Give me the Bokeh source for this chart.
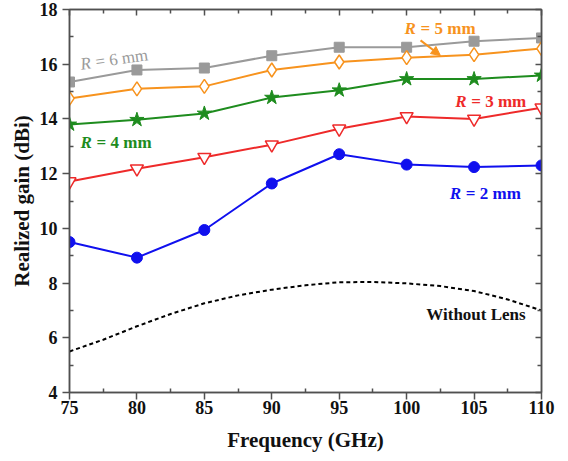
import math
from bokeh.plotting import figure
from bokeh.models import (Label, LinearAxis, Arrow, NormalHead, Range1d, FixedTicker,
                          CustomJSTickFormatter)
from bokeh.embed import file_html
from bokeh.resources import INLINE

freq = [75, 80, 85, 90, 95, 100, 105, 110]
r6 = [15.35, 15.79, 15.86, 16.31, 16.62, 16.62, 16.84, 16.96]
r5 = [14.75, 15.10, 15.19, 15.79, 16.08, 16.24, 16.35, 16.57]
r4 = [13.80, 13.97, 14.20, 14.78, 15.05, 15.46, 15.46, 15.59]
r3 = [11.71, 12.18, 12.60, 13.06, 13.64, 14.09, 14.00, 14.41]
r2 = [9.50, 8.93, 9.94, 11.64, 12.71, 12.33, 12.24, 12.30]
freq_nolens = [75, 77.5, 80, 82.5, 85, 87.5, 90, 92.5, 95, 97.5, 100, 102.5, 105, 107.5, 110]
nolens = [5.5, 5.93, 6.42, 6.87, 7.26, 7.55, 7.76, 7.92, 8.03, 8.04, 7.99, 7.89, 7.71, 7.40, 7.0]

x_ticks = [75, 80, 85, 90, 95, 100, 105, 110]
x_minor = [77.5, 82.5, 87.5, 92.5, 97.5, 102.5, 107.5]
y_ticks = [4, 6, 8, 10, 12, 14, 16, 18]
y_minor = [5, 7, 9, 11, 13, 15, 17]

FONT = "Liberation Serif"
C6, C5, C4, C3, C2 = "#9a9a9a", "#f7931e", "#1e8c1e", "#ee2a2a", "#1010ee"
AX = "#505050"
TXT = "#111111"

p = figure(width=560, height=458, output_backend="svg", toolbar_location=None,
           x_range=Range1d(75, 110), y_range=Range1d(4, 18),
           min_border_left=69, min_border_right=19, min_border_top=9, min_border_bottom=66)
p.grid.visible = False
p.outline_line_color = AX
p.outline_line_width = 1.5

for ax in (p.xaxis[0], p.yaxis[0]):
    ax.axis_line_color = AX
    ax.axis_line_width = 1.5
    ax.major_tick_line_color = AX
    ax.minor_tick_line_color = AX
    ax.major_tick_line_width = 1.5
    ax.minor_tick_line_width = 1.5
    ax.major_tick_out = 7
    ax.major_tick_in = 0
    ax.minor_tick_out = 0
    ax.minor_tick_in = 4
    ax.major_label_text_font = FONT
    ax.major_label_text_font_style = "bold"
    ax.major_label_text_font_size = "18px"
    ax.major_label_text_color = TXT
    ax.axis_label_text_font = FONT
    ax.axis_label_text_font_style = "bold"
    ax.axis_label_text_font_size = "21px"
    ax.axis_label_text_color = TXT

p.xaxis[0].ticker = FixedTicker(ticks=x_ticks, minor_ticks=x_minor)
p.yaxis[0].ticker = FixedTicker(ticks=y_ticks, minor_ticks=y_minor)
p.xaxis[0].axis_label = "Frequency (GHz)"
p.yaxis[0].axis_label = "Realized gain (dBi)"
p.xaxis[0].major_label_standoff = 1
p.yaxis[0].major_label_standoff = 5
p.xaxis[0].axis_label_standoff = 11
p.yaxis[0].axis_label_standoff = 3

# mirrored axes with inward ticks and no labels
top = LinearAxis(ticker=FixedTicker(ticks=x_ticks, minor_ticks=x_minor))
right = LinearAxis(ticker=FixedTicker(ticks=y_ticks, minor_ticks=y_minor))
for ax in (top, right):
    ax.formatter = CustomJSTickFormatter(code="return ''")
    ax.major_label_text_font_size = "1px"
    ax.major_label_standoff = 0
    ax.axis_line_color = AX
    ax.axis_line_width = 1.5
    ax.major_tick_line_color = AX
    ax.minor_tick_line_color = AX
    ax.major_tick_line_width = 1.5
    ax.minor_tick_line_width = 1.5
    ax.major_tick_out = 0
    ax.major_tick_in = 6
    ax.minor_tick_out = 0
    ax.minor_tick_in = 4
p.add_layout(top, "above")
p.add_layout(right, "right")

# data
p.line(freq_nolens, nolens, line_color="black", line_width=2, line_dash="4 3")

p.line(freq, r6, line_color=C6, line_width=2)
p.scatter(freq, r6, marker="square", size=10, fill_color=C6, line_color=C6)

p.line(freq, r5, line_color=C5, line_width=2)
p.scatter(freq, r5, marker="diamond", size=14, fill_color="white", line_color=C5, line_width=1.5)

p.line(freq, r4, line_color=C4, line_width=2)
p.scatter(freq, r4, marker="star", size=15, fill_color=C4, line_color=C4)

p.line(freq, r3, line_color=C3, line_width=2)
p.scatter(freq, r3, marker="inverted_triangle", size=13, fill_color="white", line_color=C3, line_width=1.5)

p.line(freq, r2, line_color=C2, line_width=2)
p.scatter(freq, r2, marker="circle", size=11, fill_color=C2, line_color=C2)


def rlabel(x, y, rest, color, angle=0.0, weight="bold", off=16):
    a = math.radians(angle)
    common = dict(x=x, y=y, text_font=FONT, text_font_size="17px", text_color=color,
                  text_baseline="middle", text_align="left", angle=angle, angle_units="deg")
    ital = "bold italic" if weight == "bold" else "italic"
    p.add_layout(Label(text="R", text_font_style=ital, **common))
    p.add_layout(Label(text="= " + rest, text_font_style=weight,
                       x_offset=off * math.cos(a), y_offset=off * math.sin(a), **common))


rlabel(75.82, 16.0, "6 mm", C6, angle=8, weight="normal", off=15)
rlabel(99.85, 17.32, "5 mm", C5)
rlabel(75.82, 13.15, "4 mm", C4)
rlabel(103.6, 14.65, "3 mm", C3)
rlabel(103.2, 11.28, "2 mm", C2)
p.add_layout(Label(x=101.46, y=6.85, text="Without Lens", text_font=FONT, text_font_size="17px",
                   text_font_style="bold", text_color=TXT, text_baseline="middle"))

p.add_layout(Arrow(x_start=101.03, y_start=16.87, x_end=102.5, y_end=16.32,
                   line_color=C5, line_width=2,
                   end=NormalHead(size=9, fill_color=C5, line_color=C5)))

open("out.html", "w").write(file_html(p, INLINE))
